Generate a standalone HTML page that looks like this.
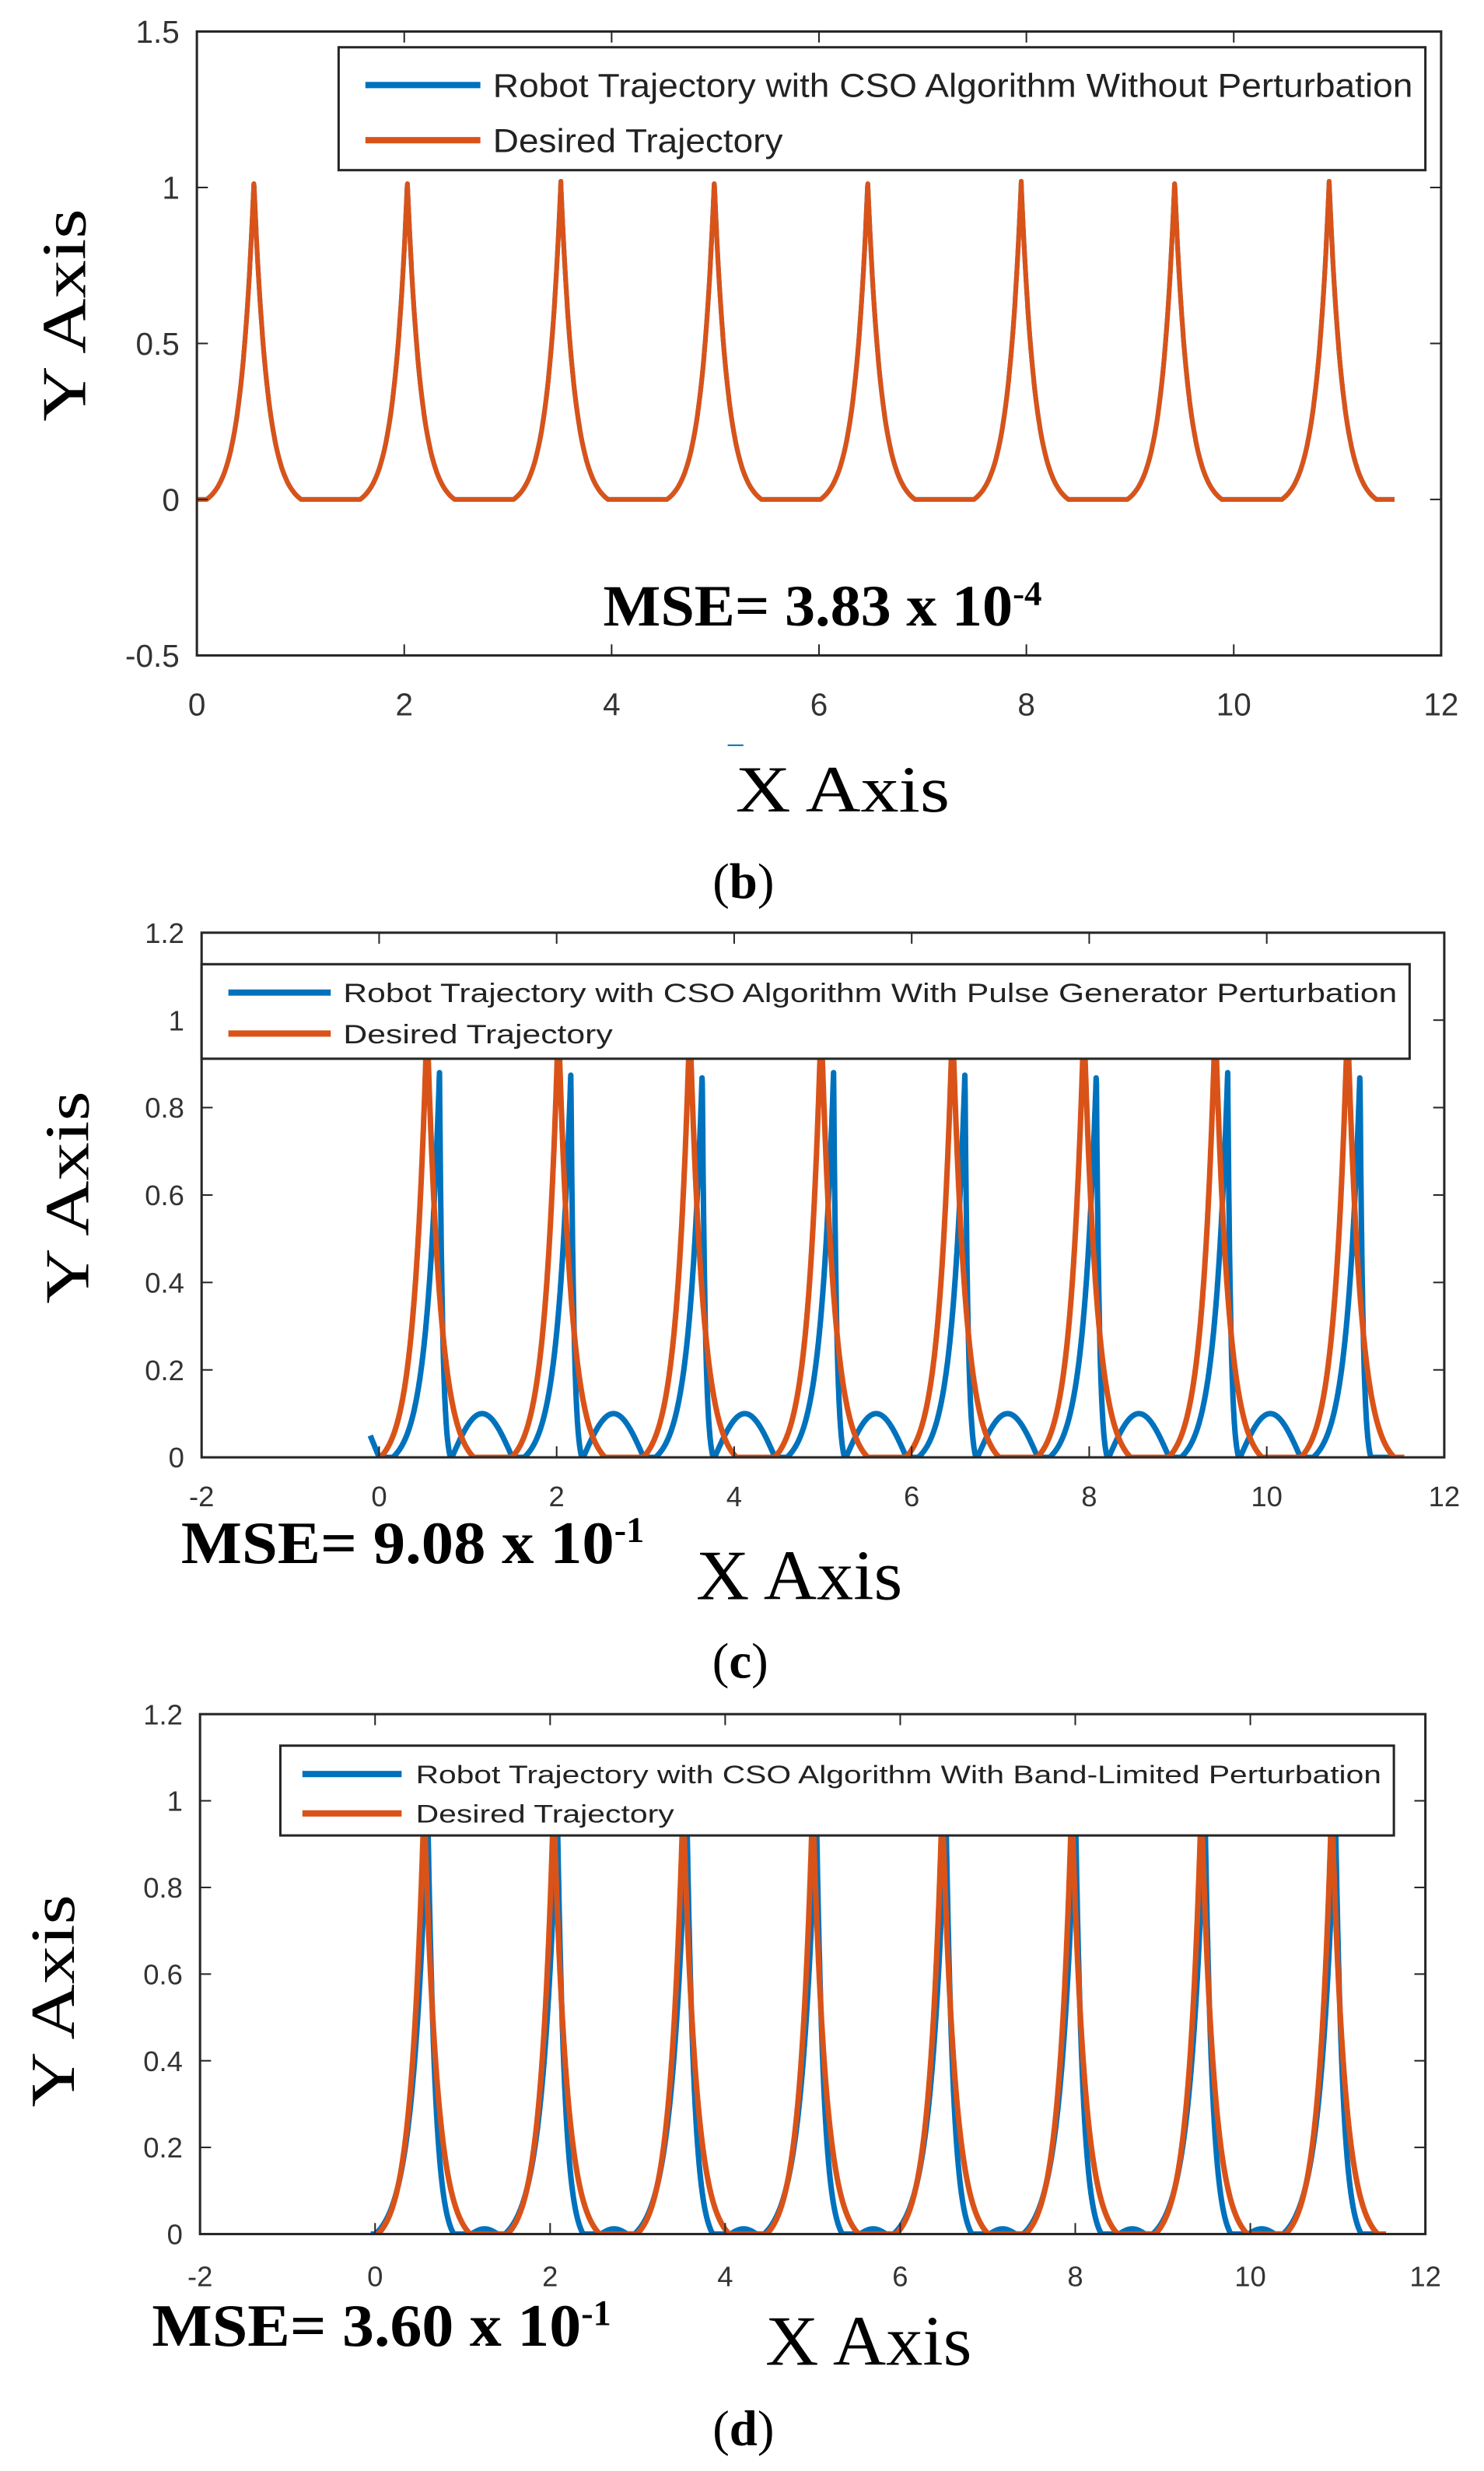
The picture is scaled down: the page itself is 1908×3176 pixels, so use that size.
<!DOCTYPE html>
<html><head><meta charset="utf-8"><style>
html,body{margin:0;padding:0;background:#fff;}
svg{display:block;}
</style></head><body>
<svg id="fig" width="1908" height="3176" viewBox="0 0 1908 3176" xmlns="http://www.w3.org/2000/svg"><g id="root" transform="scale(1.0125)"></g></svg>
<script>
// ---- data ----
const peaksB = [0.55, 2.03, 3.51, 4.99, 6.47, 7.95, 9.43, 10.92];
const heightB = [1.02, 1.02, 1.02, 1.02, 1.02, 1.02, 1.02, 1.02];
const peaksCDesired = [0.54, 2.02, 3.50, 4.98, 6.46, 7.94, 9.42, 10.91];
const heightCDesired = [1.0, 1.0, 1.0, 1.0, 1.0, 1.0, 1.0, 1.0];
const peaksCRobot = [0.68, 2.16, 3.64, 5.12, 6.60, 8.08, 9.56, 11.05];
const robotPeakC = [0.88, 0.88, 0.88, 0.88, 0.88, 0.88, 0.88, 0.88];
const bumpsC = [1.16, 2.64, 4.12, 5.60, 7.08, 8.56, 10.04];
const bumpHeightC = [0.10, 0.10, 0.10, 0.10, 0.10, 0.10, 0.10];
const startBlueC = [-0.1, 0.05];
const peaksDDesired = [0.56, 2.04, 3.52, 5.00, 6.48, 7.96, 9.44, 10.93];
const heightDDesired = [1.0, 1.0, 1.0, 1.0, 1.0, 1.0, 1.0, 1.0];
const peaksDRobot = [0.60, 2.08, 3.56, 5.04, 6.52, 8.00, 9.48, 10.97];
const heightDRobot = [1.0, 1.0, 1.0, 1.0, 1.0, 1.0, 1.0, 1.0];
const bumpsD = [1.25, 2.73, 4.21, 5.69, 7.17, 8.65, 10.13];
const bumpHeightD = [0.012, 0.012, 0.012, 0.012, 0.012, 0.012, 0.012];
const xTicksB = [0,2,4,6,8,10,12];
const yTicksB = [-0.5,0,0.5,1,1.5];
const xTicksCD = [-2,0,2,4,6,8,10,12];
const yTicksCD = [0,0.2,0.4,0.6,0.8,1,1.2];

const NS = "http://www.w3.org/2000/svg";
const root = document.getElementById('root');
const BLUE = "#0072BD", RED = "#D95319";
function mk(tag, attrs, parent){
  const e = document.createElementNS(NS, tag);
  for (const k in attrs) e.setAttribute(k, attrs[k]);
  (parent||root).appendChild(e);
  return e;
}
function txt(s, attrs, parent){ const e = mk('text', attrs, parent); e.textContent = s; return e; }

// peak shape: exponential cusp around nearest peak, cut to zero at the floor
const FLOOR = 0.03;
function cusp(x, centers, heights, wl, wr){
  let best = 0;
  for (let i=0;i<centers.length;i++){
    const d = x - centers[i];
    const e = Math.exp(-Math.abs(d)/(d<0?wl:wr));
    const v = heights[i] * Math.max(0, (e - FLOOR)/(1 - FLOOR));
    if (v > best) best = v;
  }
  return best;
}
function bumps(x, centers, heights, hw){
  let y = 0;
  for (let i=0;i<centers.length;i++){
    const d = x - centers[i];
    if (Math.abs(d) < hw) y += heights[i]*Math.cos(d/hw*Math.PI/2);
  }
  return y;
}
function startDecay(x){
  if (x < 0) return startBlueC[1]*(0 - x)/(0 - startBlueC[0]);
  return 0;
}

function makeChart(cfg){
  const g = mk('g', {});
  
  
  const sx = v => cfg.L + (v - cfg.xmin)/(cfg.xmax-cfg.xmin)*(cfg.R-cfg.L);
  const sy = v => cfg.B - (v - cfg.ymin)/(cfg.ymax-cfg.ymin)*(cfg.B-cfg.T);
  const clipId = cfg.name + '-clip';
  const cp = mk('clipPath', {id: clipId}, g);
  mk('rect', {x:cfg.L, y:cfg.T, width:cfg.R-cfg.L, height:cfg.B-cfg.T}, cp);
  const plot = mk('g', {'clip-path':'url(#'+clipId+')'}, g);
  
  
  cfg.series.forEach(s => {
    let d = '';
    for (let x = s.x0; x <= s.x1 + 1e-9; x += 0.003){
      const y = s.f(x);
      d += (d ? 'L' : 'M') + sx(x).toFixed(1) + ' ' + sy(y).toFixed(1);
    }
    const p = mk('path', {d:d, fill:'none', stroke:s.color, 'stroke-width':cfg.lw, 'stroke-linejoin':'round'}, plot);
    
    
  });
  const box = mk('rect', {x:cfg.L, y:cfg.T, width:cfg.R-cfg.L, height:cfg.B-cfg.T, fill:'none', stroke:'#262626', 'stroke-width':3}, g);
  
  
  cfg.xticks.forEach(v => {
    const X = sx(v);
    mk('line', {x1:X, y1:cfg.B, x2:X, y2:cfg.B-14, stroke:'#262626', 'stroke-width':2}, g);
    mk('line', {x1:X, y1:cfg.T, x2:X, y2:cfg.T+14, stroke:'#262626', 'stroke-width':2}, g);
    const t = txt(String(v), {x:X, y:cfg.xlabY, 'text-anchor':'middle', 'font-family':'Liberation Sans, sans-serif', 'font-size':cfg.tfs, fill:'#333'}, g);
    
    
  });
  cfg.yticks.forEach(v => {
    const Y = sy(v);
    mk('line', {x1:cfg.L, y1:Y, x2:cfg.L+14, y2:Y, stroke:'#262626', 'stroke-width':2}, g);
    mk('line', {x1:cfg.R, y1:Y, x2:cfg.R-14, y2:Y, stroke:'#262626', 'stroke-width':2}, g);
    const t = txt(String(v), {x:cfg.ylabX, y:Y+cfg.tfs*0.36, 'text-anchor':'end', 'font-family':'Liberation Sans, sans-serif', 'font-size':cfg.tfs, fill:'#333'}, g);
    
    
  });
  const lg = mk('g', {}, g);
  
  
  const Lg = cfg.legend;
  mk('rect', {x:Lg.x, y:Lg.y, width:Lg.w, height:Lg.h, fill:'#fff', stroke:'#262626', 'stroke-width':3}, lg);
  Lg.entries.forEach(en => {
    const l = mk('line', {x1:Lg.lx1, y1:en.y, x2:Lg.lx2, y2:en.y, stroke:en.color, 'stroke-width':8}, lg);
    
    
    const t = txt(en.text, {x:Lg.tx, y:en.y+Lg.fs*0.36, 'font-family':'Liberation Sans, sans-serif', 'font-size':Lg.fs, fill:'#222', textLength:en.tl, lengthAdjust:'spacingAndGlyphs'}, lg);
    
    
  });
  const m = txt('', {x:cfg.mse.x, y:cfg.mse.y, 'font-family':'Liberation Serif, serif', 'font-weight':'bold', 'font-size':cfg.mse.fs, fill:'#000'}, g);
  
  
  const t1 = mk('tspan', {textLength:cfg.mse.tl, lengthAdjust:'spacingAndGlyphs'}, m); t1.textContent = cfg.mse.text;
  const t2 = mk('tspan', {dy:-cfg.mse.fs*0.35, 'font-size':cfg.mse.fs*0.6}, m); t2.textContent = cfg.mse.exp;
  const xt = txt('X Axis', {x:cfg.xt.x, y:cfg.xt.y, 'font-family':'Liberation Serif, serif', 'font-size':cfg.xt.fs, fill:'#000', textLength:cfg.xt.tl, lengthAdjust:'spacingAndGlyphs'}, g);
  
  
  const yt = txt('Y Axis', {x:0, y:0, 'text-anchor':'middle', 'font-family':'Liberation Serif, serif', 'font-size':cfg.yt.fs, fill:'#000', transform:'translate('+cfg.yt.x+','+cfg.yt.y+') rotate(-90)', textLength:cfg.yt.tl, lengthAdjust:'spacingAndGlyphs'}, g);
  
  
  const c = txt('', {x:cfg.cap.x, y:cfg.cap.y, 'text-anchor':'middle', 'font-family':'Liberation Serif, serif', 'font-size':64, fill:'#000'}, g);
  
  
  const a = mk('tspan', {}, c); a.textContent='(';
  const b = mk('tspan', {'font-weight':'bold'}, c); b.textContent=cfg.cap.letter;
  const d = mk('tspan', {}, c); d.textContent=')';
}

makeChart({
  name:'chart-b', L:250, R:1830, T:40, B:832, xmin:0, xmax:12, ymin:-0.5, ymax:1.5, lw:6,
  series:[
    {name:'robot-trajectory-line', color:BLUE, x0:0, x1:11.55, f:x=>cusp(x,peaksB,heightB,0.13,0.13)},
    {name:'desired-trajectory-line', color:RED, x0:0, x1:11.55, f:x=>cusp(x,peaksB,heightB,0.13,0.13)}
  ],
  xticks:xTicksB, yticks:yTicksB, xlabY:908, ylabX:228, tfs:40,
  legend:{x:430,y:60,w:1380,h:156,lx1:464,lx2:610,tx:626,fs:42,entries:[
    {y:108,color:BLUE,text:'Robot Trajectory with CSO Algorithm Without Perturbation',tl:1168},
    {y:178,color:RED,text:'Desired Trajectory',tl:368}]},
  mse:{x:766,y:794,fs:74,text:'MSE= 3.83 x 10',tl:520,exp:'-4'},
  xt:{x:934,y:1030,fs:84,tl:272},
  yt:{x:108,y:400,fs:80,tl:270},
  cap:{x:944,y:1140,letter:'b'}
});
makeChart({
  name:'chart-c', L:256, R:1834, T:1184, B:1850, xmin:-2, xmax:12, ymin:0, ymax:1.2, lw:7,
  series:[
    {name:'robot-trajectory-line', color:BLUE, x0:-0.1, x1:11.45, f:x=>Math.max(cusp(x,peaksCRobot,robotPeakC,0.15,0.035), bumps(x,bumpsC,bumpHeightC,0.34))+startDecay(x)},
    {name:'desired-trajectory-line', color:RED, x0:0, x1:11.55, f:x=>cusp(x,peaksCDesired,heightCDesired,0.15,0.15)}
  ],
  xticks:xTicksCD, yticks:yTicksCD, xlabY:1912, ylabX:234, tfs:36,
  legend:{x:256,y:1224,w:1534,h:120,lx1:290,lx2:420,tx:436,fs:34,entries:[
    {y:1260,color:BLUE,text:'Robot Trajectory with CSO Algorithm With Pulse Generator Perturbation',tl:1338},
    {y:1312,color:RED,text:'Desired Trajectory',tl:342}]},
  mse:{x:230,y:1984,fs:76,text:'MSE= 9.08 x 10',tl:550,exp:'-1'},
  xt:{x:884,y:2030,fs:90,tl:262},
  yt:{x:112,y:1520,fs:80,tl:270},
  cap:{x:940,y:2130,letter:'c'}
});
makeChart({
  name:'chart-d', L:254, R:1810, T:2176, B:2836, xmin:-2, xmax:12, ymin:0, ymax:1.2, lw:7,
  series:[
    {name:'robot-trajectory-line', color:BLUE, x0:-0.05, x1:11.45, f:x=>Math.max(cusp(x,peaksDRobot,heightDRobot,0.17,0.085), bumps(x,bumpsD,bumpHeightD,0.15))},
    {name:'desired-trajectory-line', color:RED, x0:0, x1:11.55, f:x=>cusp(x,peaksDDesired,heightDDesired,0.15,0.15)}
  ],
  xticks:xTicksCD, yticks:yTicksCD, xlabY:2902, ylabX:232, tfs:36,
  legend:{x:356,y:2216,w:1414,h:114,lx1:384,lx2:510,tx:528,fs:32,entries:[
    {y:2252,color:BLUE,text:'Robot Trajectory with CSO Algorithm With Band-Limited Perturbation',tl:1226},
    {y:2302,color:RED,text:'Desired Trajectory',tl:328}]},
  mse:{x:193,y:2978,fs:76,text:'MSE= 3.60 x 10',tl:545,exp:'-1'},
  xt:{x:972,y:3002,fs:90,tl:262},
  yt:{x:94,y:2540,fs:80,tl:270},
  cap:{x:944,y:3104,letter:'d'}
});
const dash = mk('line', {x1:924, y1:946, x2:944, y2:946, stroke:BLUE, 'stroke-width':2});


</script>
</body></html>
